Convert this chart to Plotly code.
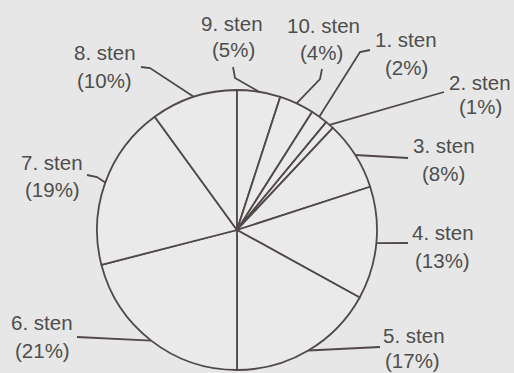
import math
import plotly.graph_objects as go

# ---- data ----
categories = ["1. sten", "2. sten", "3. sten", "4. sten", "5. sten",
              "6. sten", "7. sten", "8. sten", "9. sten", "10. sten"]
values = [2, 1, 8, 13, 17, 21, 19, 10, 5, 4]

# ---- layout constants (pixels) ----
W, H = 514, 373
CX, CY, R = 237, 230, 140
ROTATION = 32.4  # first slice starts here, clockwise from 12 o'clock

BG = "#e7e7e7"
PIE_FILL = "#eaeaea"
LINE = "#514848"
TEXT = "#4e4e4e"
FONT = "Liberation Sans, Arial, sans-serif"
FS = 20.5

# label centre positions (name line, percent line) and leader elbows, per category
label_pos = {
    "1. sten": ((406, 40), (406, 67), [(370, 50), (360, 52)]),
    "2. sten": ((480, 82), (480, 107), [(444, 92)]),
    "3. sten": ((444, 145), (443, 173), [(408, 158)]),
    "4. sten": ((443, 232), (442, 260), [(408, 243)]),
    "5. sten": ((414, 335), (412, 360), [(380, 347)]),
    "6. sten": ((42, 322), (42, 350), [(77, 337)]),
    "7. sten": ((52, 162), (52, 189), [(87, 175), (97, 177)]),
    "8. sten": ((105, 53), (104, 80), [(141, 67), (150, 68)]),
    "9. sten": ((232, 23), (233, 50), [(233, 67), (235, 78)]),
    "10. sten": ((323, 25), (321, 53), [(322, 69), (320, 79)]),
}


def px(x):
    return x / W


def py(y):
    return 1 - y / H


fig = go.Figure()
fig.add_trace(go.Pie(
    labels=categories,
    values=values,
    sort=False,
    direction="clockwise",
    rotation=ROTATION,
    textinfo="none",
    hoverinfo="skip",
    showlegend=False,
    marker=dict(colors=[PIE_FILL] * len(values), line=dict(color=LINE, width=1.8)),
    domain=dict(x=[px(CX - R), px(CX + R)], y=[py(CY + R), py(CY - R)]),
))

total = sum(values)
cum = 0
shapes = []
annotations = []
for cat, v in zip(categories, values):
    mid = ROTATION + (cum + v / 2) / total * 360
    cum += v
    a = math.radians(mid)
    ex, ey = CX + R * math.sin(a), CY - R * math.cos(a)
    (t1, t2, elbows) = label_pos[cat]
    pts = elbows + [(ex, ey)]
    path = "M " + " L ".join(f"{px(x):.5f},{py(y):.5f}" for x, y in pts)
    shapes.append(dict(type="path", xref="paper", yref="paper", path=path,
                       line=dict(color=LINE, width=1.8)))
    annotations.append(dict(x=px(t1[0]), y=py(t1[1]), xref="paper", yref="paper",
                            text=cat, showarrow=False, xanchor="center", yanchor="middle",
                            font=dict(family=FONT, size=FS, color=TEXT)))
    annotations.append(dict(x=px(t2[0]), y=py(t2[1]), xref="paper", yref="paper",
                            text=f"({v}%)", showarrow=False, xanchor="center", yanchor="middle",
                            font=dict(family=FONT, size=FS, color=TEXT)))

fig.update_layout(
    width=W, height=H,
    margin=dict(l=0, r=0, t=0, b=0),
    paper_bgcolor=BG, plot_bgcolor=BG,
    shapes=shapes,
    annotations=annotations,
)

fig.write_html(
    "out.html",
    config={"displayModeBar": False},
    post_script="document.body.style.margin='0';document.body.style.overflow='hidden';"
                "document.body.style.background='" + BG + "';",
)
